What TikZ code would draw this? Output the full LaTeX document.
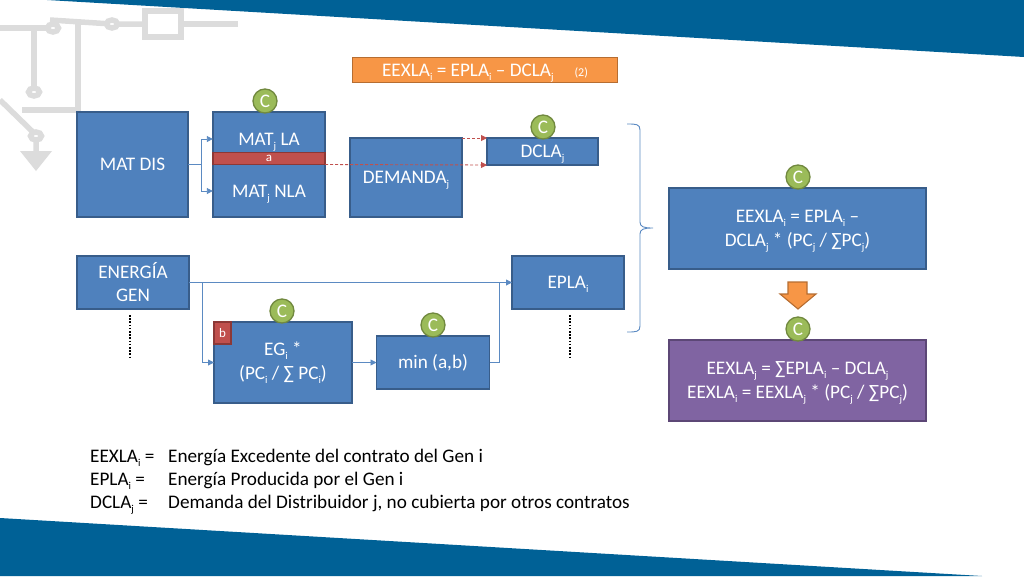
\documentclass[tikz,border=0pt]{standalone}
\usepackage{fontspec}
\setmainfont{Carlito}
\usepackage{xcolor}
\usetikzlibrary{positioning,arrows.meta,shapes.arrows,calc}
\definecolor{bandblue}{HTML}{006196}
\definecolor{boxblue}{HTML}{4F81BD}
\definecolor{boxline}{HTML}{385D8A}
\definecolor{linkblue}{HTML}{5B8AC2}
\definecolor{boxred}{HTML}{C0504D}
\definecolor{lineRed}{HTML}{8C3836}
\definecolor{boxgreen}{HTML}{9BBB59}
\definecolor{linegreen}{HTML}{71893F}
\definecolor{boxorange}{HTML}{F79646}
\definecolor{lineorange}{HTML}{B66D31}
\definecolor{boxpurple}{HTML}{8064A2}
\definecolor{linepurple}{HTML}{5C4776}
\definecolor{sketchgray}{HTML}{DCDCDC}
\newcommand{\low}[1]{\raisebox{-4pt}{\fontsize{10.5}{10.5}\selectfont #1}\smash{\vphantom{x}}}

\begin{document}
\begin{tikzpicture}[
  x=1pt, y=-1pt,
  block/.style={draw=boxline, line width=1.2pt, fill=boxblue, text=white, align=center,
                inner sep=0pt, outer sep=0pt, font=\fontsize{19.2}{24}\selectfont},
  nodepth/.style={text depth=0pt},
  redtag/.style={draw=lineRed, line width=1.1pt, fill=boxred, text=white, inner sep=0pt,
                 outer sep=0pt, font=\fontsize{13}{14}\selectfont},
  cmark/.style={circle, draw=linegreen, line width=1.3pt, fill=boxgreen, text=white,
                minimum size=24pt, inner sep=0pt, font=\fontsize{19.2}{20}\selectfont},
  lbl/.style={text=white, inner sep=0pt, text depth=0pt, font=\fontsize{19.2}{20}\selectfont},
  legend/.style={anchor=base west, inner sep=0pt, font=\fontsize{19.2}{20}\selectfont},
  arr/.style={-{Triangle[length=6pt,width=6pt]}, line width=0.9pt, linkblue},
  link/.style={line width=0.9pt, linkblue},
  redarr/.style={-{Triangle[length=6pt,width=6pt]}, line width=0.9pt, boxred, densely dashed},
  dots/.style={line width=1.6pt, black, dash pattern=on 1.6pt off 1.6pt},
  sketch/.style={line width=5.5pt, sketchgray},
  ring/.style={line width=5.5pt, draw=sketchgray, fill=white},
]
\useasboundingbox (0,0) rectangle (1024,576);

% --- bands and faint sketch behind ---
\fill[bandblue] (47,0) -- (1024,57) -- (1024,0) -- cycle;
\fill[bandblue] (0,518) -- (982,576) -- (0,576) -- cycle;

\draw[sketch] (0,28) -- (53,28);
\draw[sketch] (50,20) -- (112,24) -- (143,24);
\draw[sketch] (145,11) rectangle (181,37);
\draw[sketch] (183,24) -- (238,24);
\draw[sketch] (34,28) -- (34,90);
\draw[sketch] (78,22) -- (78,110) -- (22,110);
\draw[sketch] (0,100) -- (36,135) -- (36,155);
\fill[sketchgray] (20,151) -- (52,151) -- (36,171) -- cycle;
\draw[ring] (53,28) ellipse (5.5 and 4);
\draw[ring] (112,24) ellipse (5.5 and 4);
\draw[ring] (34,92) ellipse (5.5 and 4);
\draw[ring] (36,136) ellipse (5.5 and 4);

% --- formula on top ---
\node[block, nodepth, draw=lineorange, fill=boxorange, minimum width=265pt, minimum height=25pt] (eq) at (485,70)
  {EEXLA\low{i} = EPLA\low{i} -- DCLA\low{j}\hspace{21pt}{\fontsize{12}{14}\selectfont(2)}};

% --- first row ---
\node[block, minimum width=111pt, minimum height=105pt] (matdis) at (132.5,164.5) {MAT DIS};
\node[block, minimum width=112pt, minimum height=105pt] (matj) at (269,164.5) {};
\node[lbl, minimum width=112pt] (matla) at (269,139) {MAT\low{j} LA};
\node[lbl, minimum width=112pt] (matnla) at (269,191) {MAT\low{j} NLA};
\node[redtag, minimum width=112pt, minimum height=12pt] (a) at (269,158.5) {a};
\node[block, nodepth, minimum width=112pt, minimum height=79pt] (demanda) at (406,177.5) {DEMANDA\low{j}};
\node[block, nodepth, minimum width=111pt, minimum height=27pt] (dcla) at (542.5,151.5) {DCLA\low{j}};

% --- second row ---
\node[block, font=\fontsize{19.2}{23}\selectfont, minimum width=112pt, minimum height=53pt] (energia) at (133,282.5) {ENERGÍA\\GEN};
\node[block, nodepth, minimum width=112pt, minimum height=53pt] (epla) at (568,282.5) {EPLA\low{i}};
\node[block, minimum width=138pt, minimum height=81pt] (eg) at (283,362.5) {EG\low{i} *\\(PC\low{i} / ∑ PC\low{i})};
\node[redtag, minimum width=17pt, minimum height=22pt] (b) at (222.5,333) {b};
\node[block, minimum width=113pt, minimum height=53pt] (minab) at (433,362.5) {min (a,b)};

% --- right side ---
\node[block, nodepth, minimum width=257pt, minimum height=81pt] (calc1) at (797.5,228.5)
  {EEXLA\low{i} = EPLA\low{i} --\\DCLA\low{j} * (PC\low{j} / ∑PC\low{j})};
\node[block, nodepth, draw=linepurple, fill=boxpurple, minimum width=257pt, minimum height=81pt] (calc2) at (797.5,380.5)
  {EEXLA\low{j} = ∑EPLA\low{i} -- DCLA\low{j}\\EEXLA\low{i} = EEXLA\low{j} * (PC\low{j} / ∑PC\low{j})};
\fill[boxorange, draw=lineorange, line width=1.1pt] (788,282) -- (807,282) -- (807,294) -- (816,294)
  -- (798,309) -- (780,294) -- (788,294) -- cycle;
\draw[link] (627,124) .. controls (636,124) and (640,124) .. (640,130) -- (640,222)
  .. controls (640,227) and (644,228) .. (653,228) .. controls (644,228) and (640,229) .. (640,234)
  -- (640,326) .. controls (640,332) and (636,332) .. (627,332);

% --- C marks ---
\node[cmark] (c1) at (265,101) {C};
\node[cmark] (c2) at (543,127) {C};
\node[cmark] (c3) at (798,177) {C};
\node[cmark] (c4) at (798,329) {C};
\node[cmark] (c5) at (282,311) {C};
\node[cmark] (c6) at (433,325) {C};

% --- connectors ---
\coordinate (split1) at ($(matdis.east)+(13,0)$);
\draw[link] (matdis.east) -- (split1);
\draw[arr] (split1) |- (matla.west);
\draw[arr] (split1) |- (matnla.west);
\draw[arr] (energia.east) -- (epla.west);
\coordinate (split2) at ($(energia.east)+(13,0)$);
\draw[arr] (split2) |- (eg.west);
\draw[arr] (eg.east) -- (minab.west);
\coordinate (join1) at ($(minab.east)+(10,0)$);
\draw[link] (minab.east) -- (join1) -- (join1 |- epla.west);
\draw[redarr] (a.south east) -- (dcla.south west);
\draw[redarr] (demanda.north east) -- (dcla.north west);

% dotted continuation
\coordinate (dot1) at (130,315);
\coordinate (dot2) at (130,358);
\coordinate (dot3) at (570,315);
\coordinate (dot4) at (570,358);
\draw[dots] (dot1) -- (dot2);
\draw[dots] (dot3) -- (dot4);

% --- legend ---
\node[legend] (l1) at (90,462) {EEXLA\low{i} =};
\node[legend] (t1) at (168,462) {Energía Excedente del contrato del Gen i};
\node[legend] (l2) at (90,485) {EPLA\low{i} =};
\node[legend] (t2) at (168,485) {Energía Producida por el Gen i};
\node[legend] (l3) at (90,508) {DCLA\low{j} =};
\node[legend] (t3) at (168,508) {Demanda del Distribuidor j, no cubierta por otros contratos};
\end{tikzpicture}
\end{document}
